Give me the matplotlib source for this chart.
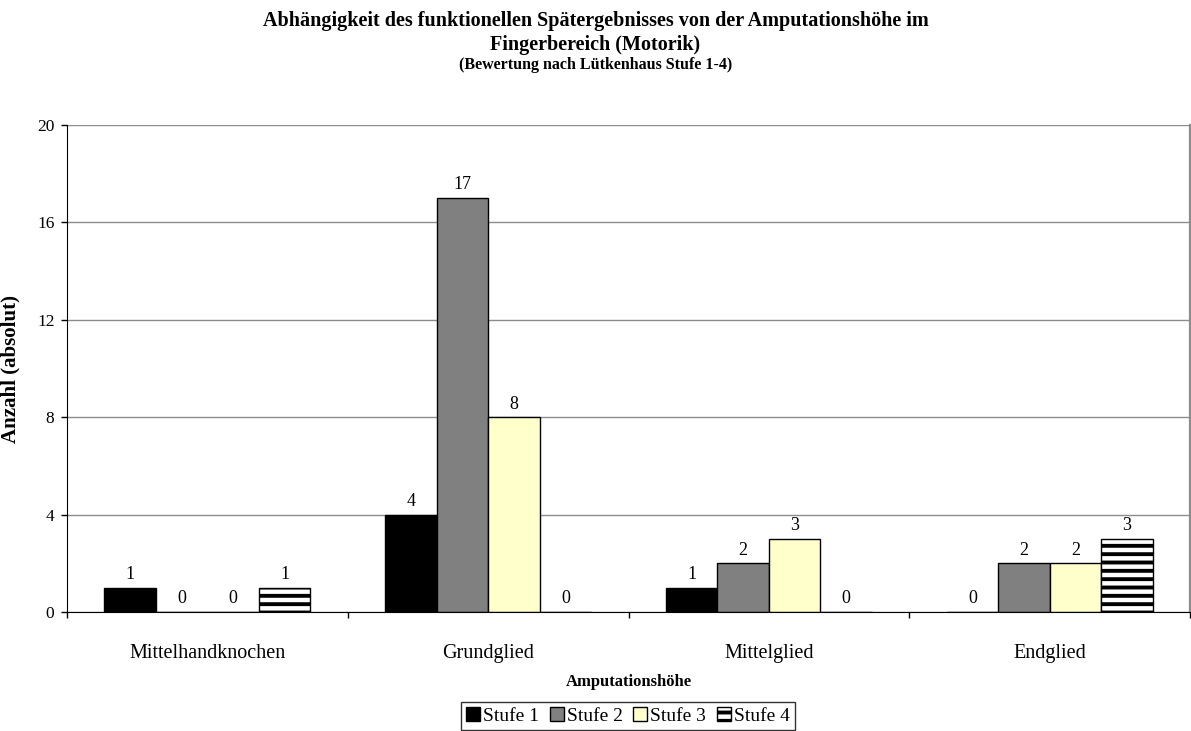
import matplotlib

matplotlib.use("Agg")
import matplotlib.pyplot as plt
import numpy as np

plt.rcParams["font.family"] = ["Liberation Serif", "DejaVu Serif"]
plt.rcParams["hatch.linewidth"] = 2.8
plt.rcParams["hatch.color"] = "black"

categories = ["Mittelhandknochen", "Grundglied", "Mittelglied", "Endglied"]
series = ["Stufe 1", "Stufe 2", "Stufe 3", "Stufe 4"]
values = [
    [1, 4, 1, 0],   # Stufe 1
    [0, 17, 2, 2],  # Stufe 2
    [0, 8, 3, 2],   # Stufe 3
    [1, 0, 0, 3],   # Stufe 4
]
colors = ["#000000", "#808080", "#FFFFCC", "#FFFFFF"]
hatches = [None, None, None, "--"]

W, H = 1191, 731
fig = plt.figure(figsize=(W / 100, H / 100), dpi=100)
# plot area in pixels: x 67..1190, y 125..612
ax = fig.add_axes([67 / W, 1 - 612 / H, 1123 / W, 487 / H])

x = np.arange(len(categories))
width = 0.1835
for i, name in enumerate(series):
    pos = x + (i - 1.5) * width
    ax.bar(pos, values[i], width, color=colors[i], edgecolor="black",
           linewidth=1.0, hatch=hatches[i], label=name)
    for xp, v in zip(pos, values[i]):
        ax.annotate(str(v), (xp, v), xytext=(0, 6.2), textcoords="offset points",
                    ha="center", va="baseline", fontsize=13)

ax.set_xlim(-0.5, len(categories) - 0.5)
ax.set_ylim(0, 20)
ax.set_yticks([0, 4, 8, 12, 16, 20])
ax.set_xticks(x)
ax.set_xticklabels(categories, fontsize=14.5)
ax.set_xticks(np.arange(len(categories) + 1) - 0.5, minor=True)
ax.tick_params(axis="x", which="major", length=0, pad=23)
ax.tick_params(axis="x", which="minor", length=4, direction="out", width=1)
ax.tick_params(axis="y", length=4, direction="out", width=1, labelsize=12.5, pad=5)
ax.grid(axis="y", color="#8c8c8c", linewidth=1.0)
ax.set_axisbelow(True)
ax.spines["top"].set_visible(False)
ax.spines["right"].set_color("#8c8c8c")
ax.spines["right"].set_linewidth(1.6)

ax.set_xlabel("Amputationshöhe", fontsize=12, fontweight="bold", labelpad=8)
ax.set_ylabel("Anzahl (absolut)", fontsize=15, fontweight="bold", labelpad=12)

fig.text(0.5, 1 - 26 / H, "Abhängigkeit des funktionellen Spätergebnisses von der Amputationshöhe im",
         ha="center", va="baseline", fontsize=14.5, fontweight="bold")
fig.text(0.5, 1 - 50 / H, "Fingerbereich (Motorik)",
         ha="center", va="baseline", fontsize=14.5, fontweight="bold")
fig.text(0.5, 1 - 69 / H, "(Bewertung nach Lütkenhaus Stufe 1-4)",
         ha="center", va="baseline", fontsize=11.5, fontweight="bold")

leg = fig.legend(loc="center", bbox_to_anchor=(628 / W, 1 - 716 / H), ncol=4,
                 fontsize=14, frameon=True, fancybox=False, handlelength=0.72,
                 handleheight=0.72, handletextpad=0.15, columnspacing=0.55,
                 borderpad=0.25, borderaxespad=0, edgecolor="black")
leg.get_frame().set_linewidth(1.0)

fig.savefig("out.png", dpi=100)
